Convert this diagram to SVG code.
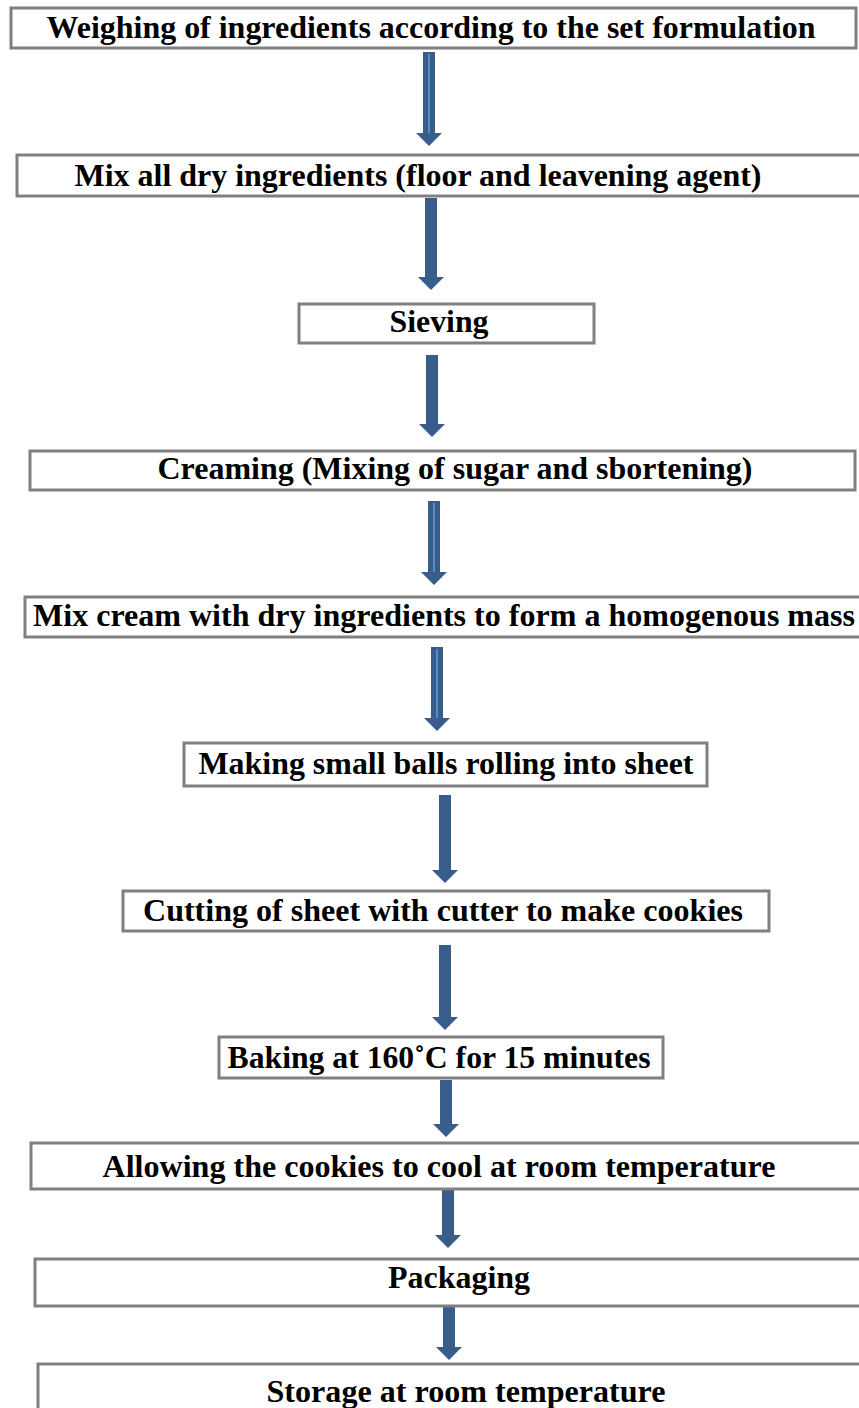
<svg xmlns="http://www.w3.org/2000/svg" width="859" height="1408" viewBox="0 0 859 1408">
<style>
.box{fill:#fff;stroke:#808080;stroke-width:3}
.t{font-family:'Liberation Serif','Times New Roman',serif;font-weight:bold;font-size:32px;fill:#000;text-anchor:middle}
.sh{fill:#385D8A}
.hl{stroke:#5B8AC6;stroke-width:2}
</style>
<g id="connectors">
<g><rect class="sh" x="423" y="52" width="12" height="82"/><line class="hl" x1="429" y1="54" x2="429" y2="134"/><polygon class="sh" points="416,133 442,133 429,146"/></g>
<g><rect class="sh" x="425" y="198" width="12" height="80"/><polygon class="sh" points="418,277 444,277 431,290"/></g>
<g><rect class="sh" x="426" y="355" width="12" height="70"/><polygon class="sh" points="419,424 445,424 432,437"/></g>
<g><rect class="sh" x="428" y="501" width="12" height="72"/><line class="hl" x1="434" y1="503" x2="434" y2="573"/><polygon class="sh" points="421,572 447,572 434,585"/></g>
<g><rect class="sh" x="431" y="647" width="12" height="72"/><line class="hl" x1="437" y1="649" x2="437" y2="719"/><polygon class="sh" points="424,718 450,718 437,731"/></g>
<g><rect class="sh" x="439" y="795" width="12" height="76"/><polygon class="sh" points="432,870 458,870 445,883"/></g>
<g><rect class="sh" x="439" y="945" width="12" height="73"/><polygon class="sh" points="432,1017 458,1017 445,1030"/></g>
<g><rect class="sh" x="440" y="1080" width="12" height="45"/><polygon class="sh" points="433,1124 459,1124 446,1137"/></g>
<g><rect class="sh" x="442" y="1190" width="12" height="46"/><polygon class="sh" points="435,1235 461,1235 448,1248"/></g>
<g><rect class="sh" x="443" y="1303" width="12" height="45"/><polygon class="sh" points="436,1347 462,1347 449,1360"/></g>
</g>
<g id="n1"><rect class="box" x="11" y="8" width="845" height="40"/><text class="t" x="431" y="38" textLength="769" lengthAdjust="spacingAndGlyphs">Weighing of ingredients according to the set formulation</text></g>
<g id="n2"><rect class="box" x="17" y="155" width="845" height="41"/><text class="t" x="418" y="186" textLength="687" lengthAdjust="spacingAndGlyphs">Mix all dry ingredients (floor and leavening agent)</text></g>
<g id="n3"><rect class="box" x="299" y="304" width="295" height="39"/><text class="t" x="439" y="332" textLength="99" lengthAdjust="spacingAndGlyphs">Sieving</text></g>
<g id="n4"><rect class="box" x="30" y="451" width="825" height="39"/><text class="t" x="455" y="479" textLength="595" lengthAdjust="spacingAndGlyphs">Creaming (Mixing of sugar and sbortening)</text></g>
<g id="n5"><rect class="box" x="25" y="597" width="840" height="40"/><text class="t" x="444" y="626" textLength="822" lengthAdjust="spacingAndGlyphs">Mix cream with dry ingredients to form a homogenous mass</text></g>
<g id="n6"><rect class="box" x="184" y="743" width="523" height="43"/><text class="t" x="446" y="774" textLength="495" lengthAdjust="spacingAndGlyphs">Making small balls rolling into sheet</text></g>
<g id="n7"><rect class="box" x="123" y="891" width="646" height="40"/><text class="t" x="443" y="921" textLength="600" lengthAdjust="spacingAndGlyphs">Cutting of sheet with cutter to make cookies</text></g>
<g id="n8"><rect class="box" x="219" y="1037" width="444" height="41"/><text class="t" x="439" y="1068" textLength="423" lengthAdjust="spacingAndGlyphs">Baking at 160˚C for 15 minutes</text></g>
<g id="n9"><rect class="box" x="31" y="1143" width="835" height="46"/><text class="t" x="439" y="1177" textLength="673" lengthAdjust="spacingAndGlyphs">Allowing the cookies to cool at room temperature</text></g>
<g id="n10"><rect class="box" x="35" y="1259" width="830" height="47"/><text class="t" x="459" y="1288" textLength="142" lengthAdjust="spacingAndGlyphs">Packaging</text></g>
<g id="n11"><rect class="box" x="38" y="1364" width="830" height="60"/><text class="t" x="466" y="1402" textLength="399" lengthAdjust="spacingAndGlyphs">Storage at room temperature</text></g>
</svg>
